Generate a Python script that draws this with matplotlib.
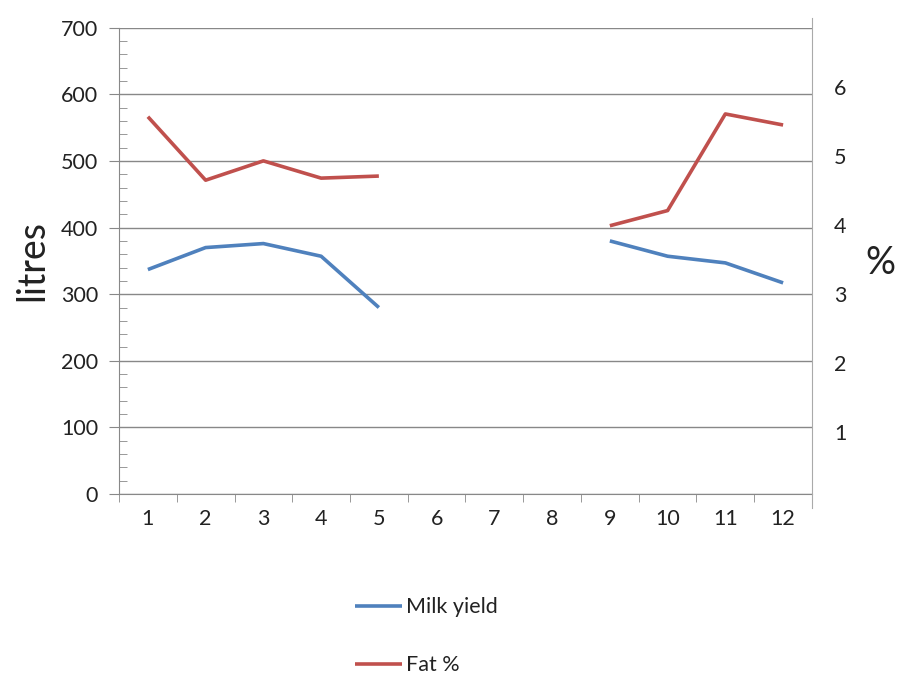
import matplotlib.pyplot as plt
import numpy as np

plt.rcParams['font.family'] = ['Lato', 'DejaVu Sans']

months = np.arange(1, 13)
milk_yield = [337, 370, 376, 357, 280, np.nan, np.nan, np.nan, 380, 357, 347, 317]
fat_pct = [5.57, 4.65, 4.93, 4.68, 4.71, np.nan, np.nan, np.nan, 3.99, 4.21, 5.61, 5.45]

blue = '#4F81BD'
red = '#C0504D'
grey = '#888888'
txt = '#222222'

fig = plt.figure(figsize=(9.05, 6.75), dpi=100)
ax = fig.add_axes([0.1315, 0.2681, 0.7657, 0.6908])
# right axis sits a little taller than the left one, like the original
ax2 = fig.add_axes([0.1315, 0.2474, 0.7657, 0.7259])

l1, = ax.plot(months, milk_yield, color=blue, lw=2.6, solid_capstyle='butt', label='Milk yield')
l2, = ax2.plot(months, fat_pct, color=red, lw=2.6, solid_capstyle='butt', label='Fat %')

ax.set_xlim(0.5, 12.5)
ax.set_ylim(0, 700)
ax.set_yticks(range(0, 701, 100))
ax.set_yticks(range(0, 701, 20), minor=True)
ax.set_xticks(months)
ax.set_xticks(np.arange(0.5, 12.6, 1), minor=True)
ax.tick_params(axis='x', which='major', length=0, pad=11, labelsize=15.5, labelcolor=txt)
ax.tick_params(axis='x', which='minor', length=6, color=grey, direction='out')
ax.tick_params(axis='y', which='major', length=7, color=grey, direction='out', pad=8,
               labelsize=15.5, labelcolor=txt)
ax.tick_params(axis='y', which='minor', length=6, color=grey, direction='in')
ax.grid(axis='y', which='major', color=grey, lw=1)
ax.set_axisbelow(True)
for s in ['top', 'right']:
    ax.spines[s].set_visible(False)
for s in ['left', 'bottom']:
    ax.spines[s].set_color(grey)
ax.set_ylabel('litres', fontsize=27, color=txt, labelpad=8)

ax2.set_xlim(0.5, 12.5)
ax2.set_ylim(-0.1, 7.0)
ax2.patch.set_visible(False)
for s in ['top', 'left', 'bottom']:
    ax2.spines[s].set_visible(False)
ax2.spines['right'].set_color('#aaaaaa')
ax2.set_xticks([])
ax2.yaxis.tick_right()
ax2.set_yticks(range(1, 7))
ax2.tick_params(axis='y', length=0, pad=16, labelsize=15.5, labelcolor=txt)
ax2.yaxis.set_label_position('right')
ax2.set_ylabel('%', fontsize=27, color=txt, rotation=0, labelpad=24, va='center')

fig.legend(handles=[l1, l2], loc='upper left', bbox_to_anchor=(0.392, 0.115),
           frameon=False, fontsize=15.5, handlelength=2.2, handletextpad=0.2,
           labelspacing=1.75, borderpad=0, borderaxespad=0, labelcolor=txt)

fig.savefig('out.png', dpi=100)
